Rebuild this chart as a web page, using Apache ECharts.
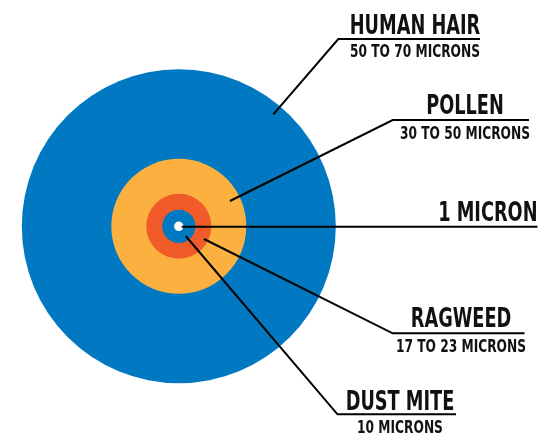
<!DOCTYPE html>
<html>
<head>
<meta charset="utf-8">
<script src="https://cdn.jsdelivr.net/npm/echarts@6/dist/echarts.min.js"></script>
<style>
html,body{margin:0;padding:0;background:#fff;}
#chart{width:555px;height:444px;}
</style>
</head>
<body>
<div id="chart"></div>
<script>
// Particles, drawn as concentric discs (relative display size, not to scale)
const categories = ['Human hair', 'Pollen', 'Ragweed', 'Dust mite', '1 micron'];
const sizes = [100, 43, 20.7, 10.6, 3];
const colors = ['#0079C2', '#FBB040', '#F15A29', '#0079C2', '#FFFFFF'];
const titles = ['HUMAN HAIR', 'POLLEN', '1 MICRON', 'RAGWEED', 'DUST MITE'];
const subtitles = ['50 TO 70 MICRONS', '30 TO 50 MICRONS', '', '17 TO 23 MICRONS', '10 MICRONS'];

const chart = echarts.init(document.getElementById('chart'), null, {renderer: 'canvas'});

const discData = categories.map((c, i) => ({name: c, value: [sizes[i], 0], itemStyle: {color: colors[i]}}));

const discSeries = {
  type: 'custom',
  coordinateSystem: 'polar',
  data: discData,
  silent: true,
  animation: false,
  renderItem: function (params, api) {
    const cs = params.coordSys;
    const p = api.coord([api.value(0), 0]);
    const r = Math.hypot(p[0] - cs.cx, p[1] - cs.cy);
    return {
      type: 'circle',
      z2: params.dataIndex,
      shape: {cx: cs.cx, cy: cs.cy, r: r},
      style: {fill: colors[params.dataIndex], stroke: null}
    };
  }
};

// Label layout (annotation positions)
const labelPos = [
  {x: 415, ty: 27, sy: 52.5, align: 'center', line: [[273.3, 114.3], [338.3, 39], [480, 39]]},
  {x: 465, ty: 107, sy: 135, align: 'center', line: [[230, 201], [392.7, 120], [529, 120]]},
  {x: 537.5, ty: 214, sy: 0, align: 'right', line: [[181.7, 226.7], [537.5, 226.7]]},
  {x: 461, ty: 320, sy: 348, align: 'center', line: [[204, 239], [392.7, 333.3], [524.5, 333.3]]},
  {x: 400, ty: 402.5, sy: 428.7, align: 'center', line: [[185.7, 236], [337.5, 414.3], [456, 414.3]]}
];

const titleFont = 'bold 27px "DejaVu Sans Condensed", "DejaVu Sans", sans-serif';
const subFont = 'bold 17px "DejaVu Sans Condensed", "DejaVu Sans", sans-serif';

const graphic = [];
labelPos.forEach((p, i) => {
  graphic.push({
    type: 'polyline', z: 100,
    shape: {points: p.line},
    style: {stroke: '#000', lineWidth: 2, fill: null}
  });
  graphic.push({
    type: 'text', z: 100, x: p.x, y: p.ty, scaleX: 0.73,
    style: {text: titles[i], font: titleFont, fill: '#111', textAlign: p.align, textVerticalAlign: 'middle'}
  });
  if (subtitles[i]) {
    graphic.push({
      type: 'text', z: 100, x: p.x, y: p.sy, scaleX: 0.8,
      style: {text: subtitles[i], font: subFont, fill: '#111', textAlign: p.align, textVerticalAlign: 'middle'}
    });
  }
});

chart.setOption({
  animation: false,
  backgroundColor: '#fff',
  polar: {center: [178.8, 226.3], radius: 157},
  angleAxis: {type: 'value', min: 0, max: 360, show: false},
  radiusAxis: {type: 'value', min: 0, max: 100, show: false},
  series: [discSeries],
  graphic: graphic
});
</script>
</body>
</html>
